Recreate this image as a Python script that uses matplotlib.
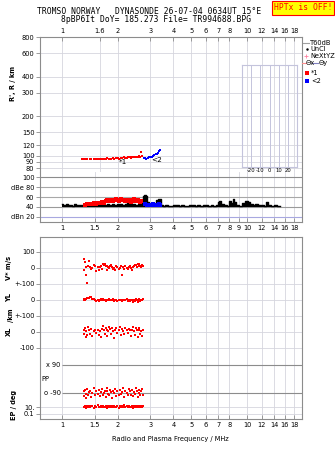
"""
Dynasonde ionogram summary — height, amplitude and drift panels.
"""
import matplotlib
matplotlib.use("Agg")
import matplotlib.pyplot as plt
import numpy as np
from matplotlib.lines import Line2D
from matplotlib.ticker import FixedLocator, NullLocator

# ---- axis ticks ----
top_ticks = [1, 1.6, 2, 3, 4, 5, 6, 7, 8, 10, 12, 14, 16, 18]
mid_ticks = [1, 1.5, 2, 3, 4, 5, 6, 7, 8, 9, 10, 12, 14, 16, 18]
bot_ticks = [1, 1.5, 2, 3, 4, 5, 6, 7, 8, 10, 12, 14, 16, 18]
height_ticks = [80, 90, 100, 120, 150, 200, 300, 400, 600, 800]
db_ticks = [20, 40, 60, 80, 100]
db_labels = ["dBn 20", "40", "60", "dBe 80", "100"]
tilt_ticks = [-20, -10, 0, 10, 20]

# ---- virtual height of echoes (O = *1, X = <2) ----
o_freq = [1.28, 1.31, 1.34, 1.37, 1.41, 1.44, 1.48, 1.52, 1.56, 1.60, 1.64, 1.68, 1.72,
          1.76, 1.80, 1.84, 1.88, 1.92, 1.96, 2.00, 2.04, 2.08, 2.12, 2.16, 2.20, 2.24,
          2.28, 2.32, 2.36, 2.40, 2.44, 2.48, 2.52, 2.56, 2.60, 2.64, 2.68, 2.72]
o_height = [94, 95, 94, 95, 94, 95, 95, 94, 95, 95, 94, 95, 95, 96, 95, 95, 96, 95, 96,
            96, 95, 96, 96, 97, 96, 96, 97, 97, 96, 97, 97, 98, 97, 98, 99, 98, 106, 100]
x_freq = [2.76, 2.80, 2.85, 2.90, 2.95, 3.00, 3.05, 3.10, 3.15, 3.20, 3.25, 3.30, 3.35, 3.40]
x_height = [96, 96, 95, 96, 97, 98, 98, 100, 101, 102, 103, 104, 108, 110]

# ---- amplitude (dB) ----
amp_freq = [1.00, 1.03, 1.06, 1.09, 1.12, 1.15, 1.18, 1.21, 1.25, 1.29, 1.33, 1.37, 1.41,
            1.46, 1.51, 1.56, 1.61, 1.66, 1.71, 1.77, 1.83, 1.89, 1.95, 2.01, 2.08, 2.15,
            2.22, 2.29, 2.37, 2.45, 2.53, 2.61, 2.70, 2.75, 2.80, 2.85, 2.90, 2.98, 3.08,
            3.18, 3.28, 3.36, 3.45, 3.56, 3.68, 3.80, 3.93, 4.06, 4.20, 4.34, 4.48, 4.63,
            4.79, 4.95, 5.12, 5.29, 5.47, 5.65, 5.84, 6.04, 6.24, 6.45, 6.67, 6.90, 7.05,
            7.13, 7.37, 7.62, 7.88, 8.15, 8.30, 8.45, 8.60, 8.90, 9.20, 9.50, 9.70, 9.90,
            10.2, 10.5, 10.9, 11.3, 11.7, 12.1, 12.5, 12.8, 13.2, 13.7, 14.2, 14.7, 15.0]
amp_db = [46, 44, 47, 43, 45, 42, 46, 44, 43, 45, 44, 46, 43, 45, 44, 47, 45, 46, 44, 47,
          45, 46, 44, 46, 47, 45, 46, 48, 46, 47, 45, 46, 48, 63, 64, 62, 50, 46, 48, 45,
          54, 57, 44, 42, 43, 41, 42, 43, 45, 42, 43, 41, 42, 44, 45, 42, 44, 42, 43, 45,
          42, 43, 42, 44, 51, 53, 47, 43, 42, 52, 49, 56, 50, 44, 42, 48, 45, 52, 50, 47,
          43, 47, 43, 44, 42, 51, 43, 42, 43, 42, 42]
o_amp_freq = [1.33, 1.36, 1.39, 1.42, 1.45, 1.48, 1.52, 1.56, 1.60, 1.64, 1.68, 1.72,
              1.76, 1.80, 1.84, 1.88, 1.92, 1.96, 2.00, 2.04, 2.08, 2.12, 2.16, 2.20,
              2.24, 2.28, 2.32, 2.36, 2.40, 2.44, 2.48, 2.52, 2.56, 2.60, 2.64, 2.68]
o_amp_db = [45, 46, 46, 47, 46, 48, 47, 49, 48, 50, 49, 52, 54, 53, 55, 52, 54, 56, 55, 53,
            56, 54, 55, 53, 52, 54, 55, 51, 53, 56, 55, 52, 54, 53, 50, 52]
x_amp_freq = [2.80, 2.86, 2.92, 2.98, 3.04, 3.10, 3.16, 3.22, 3.28, 3.34, 3.40]
x_amp_db = [46, 45, 44, 45, 44, 46, 45, 44, 45, 46, 44]

# ---- drift / polarisation per echo ----
echo_freq = [1.31, 1.32, 1.33, 1.34, 1.35, 1.36, 1.38, 1.40, 1.42, 1.44, 1.46, 1.48,
             1.50, 1.53, 1.56, 1.58, 1.60, 1.62, 1.64, 1.66, 1.68, 1.70, 1.72, 1.74,
             1.76, 1.78, 1.80, 1.82, 1.84, 1.86, 1.88, 1.90, 1.93, 1.96, 1.99, 2.02,
             2.05, 2.08, 2.11, 2.14, 2.17, 2.20, 2.23, 2.26, 2.29, 2.32, 2.35, 2.38,
             2.41, 2.44, 2.47, 2.50, 2.53, 2.56, 2.59, 2.62, 2.65, 2.68, 2.71, 2.74]
vstar = [-12, 56, 37, -44, 8, -92, 12, 45, 5, -8, 2, 18, 10, -20, 5, -15, 8, 15, -5, 22,
         18, 25, 10, -10, 15, 5, -3, 12, 20, 8, -5, 2, -12, 10, 5, -8, 0, 12, -45, 5,
         -5, 10, 2, -6, 8, 15, 0, -10, 6, 12, 18, 20, 5, 22, 10, 25, 15, 8, 18, 12]
yl_km = [5, 3, 2, 8, 6, 10, 12, 15, 18, 20, 8, 5, 2, -6, 3, -5, 0, 4, -3, 5,
         2, 0, -4, 3, 1, -2, 5, 2, 0, -3, 4, -5, 2, 0, -6, 3, -2, 1, -4, 2,
         0, -3, 5, -8, 2, -5, 0, 3, -10, 2, -6, 4, 0, -12, 5, 2, -5, 3, -2, 6]
xl_km = [-10, 15, 25, -30, 5, -20, 30, 10, -15, 20, -25, 8, 15, -5, 12, -18, 5, -30, 20, 35,
         10, -12, 25, -28, 15, 5, 30, 18, -10, 22, 8, -35, 15, 25, -5, 12, 30, -20, 18, 5,
         -15, 28, 10, -8, 20, 15, -25, 12, 30, 5, -18, 22, 10, -30, 15, 25, -10, 8, -22, 12]
pp_deg = [-80, -110, -70, -95, -120, -65, -100, -85, -75, -115, -90, -60, -105, -80, -95,
          -70, -110, -85, -65, -100, -90, -75, -115, -80, -60, -95, -105, -70, -85, -120,
          -75, -90, -65, -110, -80, -100, -70, -95, -85, -60, -115, -75, -90, -105, -65,
          -80, -100, -70, -110, -85, -95, -60, -75, -115, -90, -70, -100, -80, -65, -105]
ep_deg = [12, 8, 20, 15, 6, 25, 10, 18, 9, 14, 22, 7, 16, 11, 30, 9, 13, 19, 8, 24,
          12, 10, 17, 6, 21, 14, 9, 26, 11, 15, 8, 20, 13, 10, 18, 7, 23, 12, 16, 9,
          28, 11, 14, 8, 19, 13, 10, 22, 6, 15, 12, 17, 9, 25, 11, 14, 8, 20, 10, 16]

# ---- style ----
W, H = 335, 451
RED, BLUE = "#ff0000", "#0000ff"
FRAME = "#8c8c8c"
GRID = "#d6d6de"
FS = 4.8
XLIM = (0.76, 19.8)


def fx(px):
    return px / W


def fy(py):
    return 1 - py / H


def freq_axis(ax, ticks, where):
    ax.set_xscale("log")
    ax.set_xlim(*XLIM)
    ax.xaxis.set_major_locator(FixedLocator(ticks))
    ax.xaxis.set_minor_locator(NullLocator())
    ax.set_xticklabels([f"{t:g}" for t in ticks])
    ax.xaxis.set_ticks_position(where)
    ax.tick_params(axis="x", direction="in", length=3, width=0.6, color=FRAME,
                   labelsize=FS, pad=2.5)
    for t in ticks:
        ax.axvline(t, color=GRID, lw=0.6, zorder=0)
    for s in ax.spines.values():
        s.set_color(FRAME)
        s.set_linewidth(0.8)
    ax.tick_params(axis="y", direction="out", length=3, width=0.6, color=FRAME,
                   labelsize=FS, pad=1)


fig = plt.figure(figsize=(W / 100, H / 100), dpi=100)

# ---- height panel ----
ax_h = fig.add_axes([fx(40), fy(172), 262 / W, 135 / H])
freq_axis(ax_h, top_ticks, "top")
ax_h.set_yscale("log")
ax_h.set_ylim(75, 800)
ax_h.yaxis.set_major_locator(FixedLocator(height_ticks))
ax_h.yaxis.set_minor_locator(NullLocator())
ax_h.set_yticklabels([str(h) for h in height_ticks])
for h in height_ticks:
    ax_h.axhline(h, color=GRID, lw=0.6, zorder=0)
ax_h.spines["bottom"].set_visible(False)
ax_h.plot(o_freq, o_height, "s", color=RED, ms=1.9, mew=0)
ax_h.plot(x_freq, x_height, "s", color=BLUE, ms=2.0, mew=0)
ax_h.text(2.14, 90, "*1", fontsize=FS + 0.5, ha="center", va="center")
ax_h.text(3.26, 92, "<2", fontsize=FS + 0.5, ha="center", va="center")

# tilt inset
ax_t = fig.add_axes([fx(242), fy(167), 55 / W, 102 / H])
ax_t.set_facecolor("none")
ax_t.set_xlim(-30, 30)
ax_t.set_ylim(0, 1)
ax_t.set_yticks([])
ax_t.set_xticks(tilt_ticks)
ax_t.set_xticklabels([str(t) for t in tilt_ticks])
ax_t.tick_params(axis="x", length=0, labelsize=3.8, pad=1)
ax_t.set_xlabel("Tilt / deg", fontsize=3.8, labelpad=0.5)
for t in tilt_ticks:
    ax_t.axvline(t, color="#c4c4dc", lw=0.7)
for s in ax_t.spines.values():
    s.set_color("#c4c4dc")
    s.set_linewidth(0.8)

# ---- amplitude panel ----
ax_d = fig.add_axes([fx(40), fy(222), 262 / W, 50 / H])
freq_axis(ax_d, mid_ticks, "bottom")
ax_d.set_ylim(10, 110)
ax_d.set_yticks(db_ticks)
ax_d.set_yticklabels(db_labels)
ax_d.spines["top"].set_visible(False)
for d, c in zip(db_ticks, ["#a8a8e0", "#9a9a9a", "#a8a8a8", "#a8a8a8", "#8c8c8c"]):
    ax_d.axhline(d, color=c, lw=0.8, zorder=0.5)
ax_d.fill_between(amp_freq, 39, amp_db, step="mid", color="black", lw=0, zorder=2)
ax_d.step(amp_freq, amp_db, where="mid", color="black", lw=1.0, zorder=2)
ax_d.plot(o_amp_freq, o_amp_db, "s-", color=RED, ms=2.6, mew=0, lw=1.2, zorder=3)
ax_d.plot(x_amp_freq, x_amp_db, "s-", color=BLUE, ms=2.6, mew=0, lw=1.2, zorder=3)

# ---- drift / polarisation panel (rows stacked in panel units) ----
ax_l = fig.add_axes([fx(40), fy(419), 262 / W, 182 / H])
freq_axis(ax_l, bot_ticks, "bottom")
ax_l.set_ylim(0, 182)
V0, Y0, X0 = 151, 119, 87     # zero lines of V*, YL, XL rows
SC = 0.16                     # panel units per m/s or km
PP0, PPS = 40, 28 / 180       # phase row centre and scale
EP0, EPS = 5, 3.5             # EP row: 0.1 deg at EP0, units per decade

row_ticks = [5, 12, 71, 87, 103, 119, 135, 151, 167]
row_labels = ["0.1", "10.", "-100", "0", "+-100", "0", "+-100", "0", "100"]
ax_l.set_yticks(row_ticks)
ax_l.set_yticklabels(row_labels)
for r in row_ticks:
    ax_l.axhline(r, color=GRID, lw=0.6, zorder=0)
for deg, lab in [(90, "x 90"), (-90, "o -90")]:
    yy = PP0 + deg * PPS
    ax_l.hlines(yy, 1.0, XLIM[1], color="#8c8c8c", lw=0.8, zorder=0.5)
    ax_l.text(0.985, yy, lab, fontsize=FS, ha="right", va="center")
ax_l.text(0.775, PP0, "PP", fontsize=FS, ha="left", va="center")

ef = np.array(echo_freq)
mk = dict(color=RED, ms=1.8, mew=0, ls="none", marker="s")
ax_l.plot(ef, V0 + SC * np.array(vstar), **mk)
ax_l.plot(ef, Y0 + SC * np.array(yl_km), **mk)
ax_l.plot(ef, X0 + SC * np.array(xl_km), **mk)
ax_l.plot(ef, PP0 + PPS * np.array(pp_deg), **mk)
ax_l.plot(ef, EP0 + EPS * (np.log10(ep_deg) + 1), **mk)

# ---- side labels ----
side = dict(rotation=90, ha="center", va="center", fontsize=4.8, fontweight="bold")
fig.text(fx(13), fy(83), "R', R / km", **side)
fig.text(fx(9), fy(268), "V* m/s", **side)
fig.text(fx(9), fy(298), "YL", **side)
fig.text(fx(11), fy(315), "/km", **side)
fig.text(fx(9), fy(331), "XL", **side)
fig.text(fx(14), fy(405), "EP / deg", **side)
fig.text(fx(170), fy(439), "Radio and Plasma Frequency / MHz", ha="center",
         va="center", fontsize=4.8)

# ---- legend block on the right ----
lg = dict(fontsize=FS, va="center", ha="left")
fig.add_artist(Line2D([fx(303), fx(309)], [fy(43)] * 2, color="#a0a0a0", lw=0.8))
fig.text(fx(310), fy(43), "T60dB", **lg)
fig.add_artist(Line2D([fx(307)], [fy(49)], marker=".", ms=1.5, color="black"))
fig.text(fx(310), fy(49), "UnCl", **lg)
fig.add_artist(Line2D([fx(306)], [fy(56)], marker="+", ms=3, mew=0.6, color="#ff80a0"))
fig.text(fx(310), fy(56), "NeXtYZ", **lg)
fig.add_artist(Line2D([fx(302), fx(305.5)], [fy(63)] * 2, color="#ff9090", lw=0.8))
fig.text(fx(305.5), fy(63), "Θx", **lg)
fig.add_artist(Line2D([fx(312), fx(318)], [fy(63)] * 2, color="#8080c0", lw=0.8))
fig.text(fx(318.5), fy(63), "Θy", **lg)
fig.add_artist(Line2D([fx(307)], [fy(73)], marker="s", ms=2.2, mew=0, color=RED))
fig.text(fx(311), fy(73), "*1", **lg)
fig.add_artist(Line2D([fx(307)], [fy(81)], marker="s", ms=2.2, mew=0, color=BLUE))
fig.text(fx(311), fy(81), "<2", **lg)

# ---- header ----
mono = dict(family="DejaVu Sans Mono", fontsize=5.8, ha="center", va="center")
fig.text(fx(149), fy(12), "TROMSO NORWAY   DYNASONDE 26-07-04 0634UT 15°E", **mono)
fig.text(fx(156), fy(20), "8pBP6It DoY= 185.273 File= TR994688.BPG", **mono)
fig.text(fx(303), fy(8), "HPTx is OFF!", family="DejaVu Sans Mono", fontsize=5.8,
         color=RED, ha="center", va="center",
         bbox=dict(boxstyle="square,pad=0.25", fc="#ffff00", ec=RED, lw=0.8))

fig.savefig("out.png", dpi=100)
plt.close(fig)
